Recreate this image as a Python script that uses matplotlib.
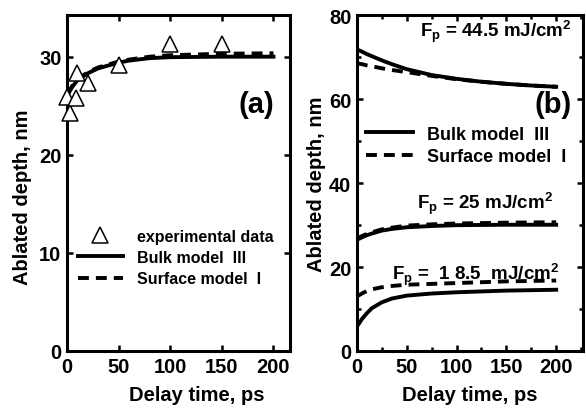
import matplotlib
matplotlib.use("Agg")
import matplotlib.pyplot as plt
from matplotlib.ticker import MultipleLocator

plt.rcParams.update({
    "font.family": ["Liberation Sans", "DejaVu Sans"],
    "font.weight": "bold",
    "axes.labelweight": "bold",
    "mathtext.fontset": "custom",
    "mathtext.rm": "Liberation Sans:bold",
    "mathtext.bf": "Liberation Sans:bold",
    "mathtext.it": "Liberation Sans:bold",
    "mathtext.default": "rm",
    "axes.linewidth": 2.2,
})

# ---- panel (a): experiment vs models ----
exp_t = [0, 3, 9, 10, 20, 50, 100, 150]
exp_d = [25.9, 24.3, 25.8, 28.3, 27.3, 29.2, 31.3, 31.3]

a_t = [0, 5, 10, 20, 30, 40, 50, 60, 80, 100, 150, 200]
a_bulk = [26.0, 26.9, 27.6, 28.3, 28.8, 29.1, 29.4, 29.6, 29.85, 29.95, 30.0, 30.0]
a_surf = [26.2, 27.0, 27.7, 28.4, 28.9, 29.2, 29.5, 29.7, 30.0, 30.15, 30.3, 30.35]

# ---- panel (b): three fluences ----
b_t = [0, 5, 10, 15, 25, 35, 50, 75, 100, 125, 150, 175, 200]
bulk_445 = [71.9, 71.4, 70.8, 70.3, 69.3, 68.4, 67.2, 65.8, 64.9, 64.2, 63.7, 63.3, 63.0]
surf_445 = [68.6, 68.4, 68.1, 67.9, 67.4, 67.0, 66.5, 65.6, 64.8, 64.2, 63.7, 63.3, 63.0]
bulk_25 = [26.5, 27.1, 27.6, 28.0, 28.7, 29.1, 29.5, 29.8, 30.0, 30.05, 30.1, 30.1, 30.1]
surf_25 = [26.8, 27.4, 27.9, 28.3, 29.0, 29.4, 29.9, 30.2, 30.4, 30.5, 30.6, 30.65, 30.7]
bulk_185 = [5.8, 7.6, 9.0, 10.2, 11.6, 12.5, 13.2, 13.7, 14.0, 14.2, 14.4, 14.5, 14.6]
surf_185 = [13.0, 13.7, 14.3, 14.7, 15.2, 15.5, 15.8, 16.0, 16.2, 16.4, 16.6, 16.7, 16.8]

LW = 2.8
DASH = (0, (2.8, 1.8))

fig = plt.figure(figsize=(5.86, 4.10), dpi=100)
axa = fig.add_axes([0.1143, 0.1415, 0.3806, 0.8183])
axb = fig.add_axes([0.609, 0.1415, 0.386, 0.8183])

def style(ax):
    ax.tick_params(which="both", direction="in", top=True, right=True,
                   labelsize=14.5, pad=4, width=1.8)
    ax.tick_params(which="major", length=4.5)
    ax.tick_params(which="minor", length=3)
    for lab in ax.get_xticklabels() + ax.get_yticklabels():
        lab.set_fontweight("bold")

# (a)
axa.plot(a_t, a_bulk, "-", color="black", lw=LW, label="Bulk model  III")
axa.plot(a_t, a_surf, color="black", lw=LW, ls=DASH, label="Surface model  I")
axa.plot(exp_t, exp_d, "^", ms=12, mfc="white", mec="black", mew=1.1,
         label="experimental data", zorder=5, clip_on=False)
axa.set_xlim(0, 216)
axa.set_ylim(0, 34.2)
axa.xaxis.set_major_locator(MultipleLocator(50))
axa.yaxis.set_major_locator(MultipleLocator(10))
style(axa)
axa.set_xlabel("Delay time, ps", fontsize=14.5)
axa.set_ylabel("Ablated depth, nm", fontsize=14.5)
axa.xaxis.set_label_coords(0.58, -0.10)
axa.yaxis.set_label_coords(-0.155, 0.46)
axa.text(0.93, 0.736, "(a)", transform=axa.transAxes, fontsize=21,
         ha="right", va="center")
h, l = axa.get_legend_handles_labels()
axa.legend([h[2], h[0], h[1]], [l[2], l[0], l[1]], frameon=False,
           fontsize=11.5, loc="upper left", bbox_to_anchor=(0.05, 0.365),
           handlelength=2.8, handletextpad=0.9, labelspacing=0.4,
           borderpad=0, borderaxespad=0)

# (b)
axb.plot(b_t, bulk_445, "-", color="black", lw=LW, label="Bulk model  III")
axb.plot(b_t, surf_445, color="black", lw=LW, ls=DASH, label="Surface model  I")
axb.plot(b_t, bulk_25, "-", color="black", lw=LW)
axb.plot(b_t, surf_25, color="black", lw=LW, ls=DASH)
axb.plot(b_t, bulk_185, "-", color="black", lw=LW)
axb.plot(b_t, surf_185, color="black", lw=LW, ls=DASH)
axb.set_xlim(0, 227)
axb.set_ylim(0, 80)
axb.xaxis.set_major_locator(MultipleLocator(50))
axb.xaxis.set_minor_locator(MultipleLocator(25))
axb.yaxis.set_major_locator(MultipleLocator(20))
axb.yaxis.set_minor_locator(MultipleLocator(10))
style(axb)
axb.set_xlabel("Delay time, ps", fontsize=14.5)
axb.set_ylabel("Ablated depth, nm", fontsize=14.5)
axb.xaxis.set_label_coords(0.5, -0.10)
axb.yaxis.set_label_coords(-0.135, 0.5)
axb.text(0.95, 0.736, "(b)", transform=axb.transAxes, fontsize=21,
         ha="right", va="center")
axb.text(63, 75.0, r"F$_p$ = 44.5 mJ/cm$^2$", fontsize=13.5, va="baseline")
axb.text(60, 34.2, r"F$_p$ = 25 mJ/cm$^2$", fontsize=13.5, va="baseline")
axb.text(35, 17.1, r"F$_p$ =  1 8.5  mJ/cm$^2$", fontsize=13.5, va="baseline")
axb.legend(frameon=False, fontsize=13, loc="upper left",
           bbox_to_anchor=(0.04, 0.672), handlelength=2.6, handletextpad=0.8,
           labelspacing=0.3, borderpad=0, borderaxespad=0)

fig.savefig("out.png", dpi=100, facecolor="white")
